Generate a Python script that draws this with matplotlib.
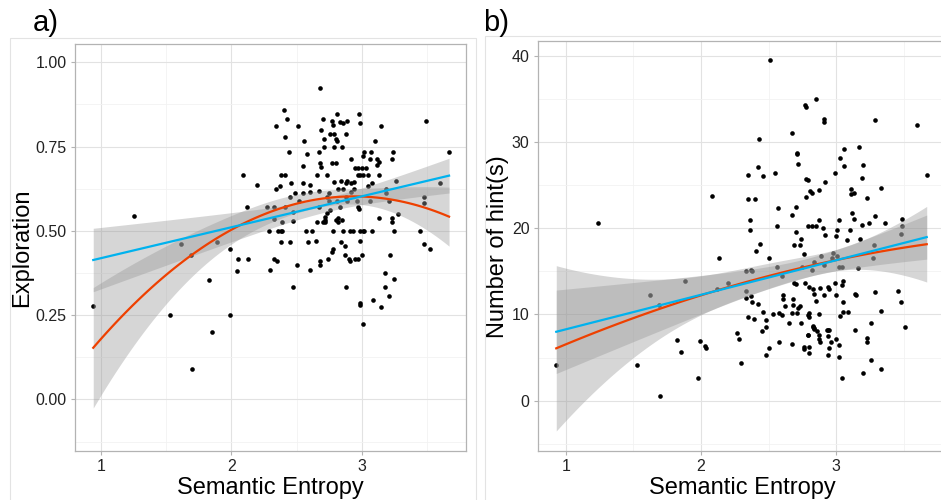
import numpy as np
import matplotlib
matplotlib.use("Agg")
import matplotlib.pyplot as plt
from matplotlib.patches import Rectangle

plt.rcParams['font.family'] = ['Liberation Sans', 'DejaVu Sans']

# panel a) semantic entropy vs exploration
xa = [0.94, 1.25, 1.53, 1.61, 1.69, 1.70, 1.83, 1.85, 1.89, 1.99, 1.99, 2.04, 2.05, 2.09, 2.12,
      2.13, 2.20, 2.27, 2.29, 2.30, 2.33, 2.33, 2.33, 2.34, 2.34, 2.35, 2.36, 2.37, 2.38, 2.38,
      2.38, 2.39, 2.39, 2.40, 2.41, 2.41, 2.41, 2.43, 2.44, 2.45, 2.46, 2.45, 2.47, 2.47, 2.47,
      2.49, 2.50, 2.51, 2.52, 2.55, 2.55, 2.55, 2.56, 2.57, 2.58, 2.59, 2.60, 2.60, 2.60, 2.62,
      2.65, 2.66, 2.66, 2.67, 2.67, 2.67, 2.68, 2.68, 2.68, 2.68, 2.69, 2.69, 2.70, 2.70, 2.71,
      2.71, 2.72, 2.72, 2.72, 2.73, 2.73, 2.73, 2.74, 2.75, 2.75, 2.76, 2.76, 2.77, 2.77, 2.77,
      2.78, 2.78, 2.78, 2.79, 2.79, 2.79, 2.80, 2.80, 2.80, 2.81, 2.81, 2.81, 2.82, 2.82, 2.82,
      2.83, 2.83, 2.84, 2.84, 2.85, 2.85, 2.86, 2.86, 2.86, 2.87, 2.87, 2.88, 2.88, 2.88, 2.88,
      2.89, 2.89, 2.89, 2.90, 2.91, 2.91, 2.92, 2.92, 2.92, 2.93, 2.94, 2.94, 2.95, 2.95, 2.96,
      2.97, 2.97, 2.97, 2.97, 2.98, 2.98, 2.99, 2.99, 2.99, 2.99, 2.99, 2.99, 3.00, 3.00, 3.01,
      3.01, 3.01, 3.01, 3.02, 3.02, 3.03, 3.05, 3.05, 3.06, 3.06, 3.07, 3.08, 3.08, 3.09, 3.10,
      3.12, 3.12, 3.13, 3.13, 3.13, 3.15, 3.15, 3.18, 3.18, 3.19, 3.19, 3.21, 3.21, 3.22, 3.23,
      3.23, 3.23, 3.24, 3.25, 3.25, 3.26, 3.28, 3.45, 3.48, 3.48, 3.48, 3.49, 3.52, 3.60, 3.67]
ya = [0.278, 0.545, 0.250, 0.462, 0.428, 0.091, 0.353, 0.200, 0.467, 0.445, 0.250, 0.382, 0.416, 0.666, 0.572,
      0.416, 0.637, 0.572, 0.500, 0.385, 0.416, 0.572, 0.534, 0.812, 0.625, 0.411, 0.500, 0.634, 0.666, 0.500,
      0.467, 0.526, 0.500, 0.857, 0.777, 0.666, 0.572, 0.833, 0.733, 0.467, 0.643, 0.601, 0.529, 0.556, 0.333,
      0.611, 0.400, 0.812, 0.588, 0.692, 0.643, 0.611, 0.765, 0.500, 0.728, 0.467, 0.615, 0.385, 0.636, 0.500,
      0.471, 0.526, 0.666, 0.733, 0.572, 0.618, 0.400, 0.923, 0.700, 0.411, 0.688, 0.800, 0.526, 0.833, 0.771,
      0.750, 0.532, 0.542, 0.526, 0.552, 0.666, 0.601, 0.416, 0.611, 0.588, 0.786, 0.562, 0.438, 0.825, 0.700,
      0.815, 0.445, 0.500, 0.645, 0.750, 0.786, 0.771, 0.532, 0.700, 0.847, 0.765, 0.588, 0.625, 0.526, 0.539,
      0.572, 0.824, 0.648, 0.467, 0.750, 0.532, 0.500, 0.819, 0.625, 0.427, 0.455, 0.643, 0.601, 0.786, 0.334,
      0.825, 0.588, 0.648, 0.415, 0.500, 0.411, 0.615, 0.643, 0.714, 0.500, 0.625, 0.646, 0.686, 0.417, 0.588,
      0.417, 0.686, 0.666, 0.572, 0.847, 0.566, 0.287, 0.666, 0.500, 0.279, 0.471, 0.819, 0.428, 0.686, 0.224,
      0.666, 0.500, 0.723, 0.733, 0.500, 0.686, 0.666, 0.634, 0.588, 0.714, 0.733, 0.643, 0.500, 0.295, 0.765,
      0.714, 0.694, 0.704, 0.538, 0.666, 0.812, 0.273, 0.376, 0.334, 0.623, 0.613, 0.588, 0.308, 0.427, 0.538,
      0.526, 0.714, 0.733, 0.500, 0.358, 0.648, 0.551, 0.500, 0.601, 0.462, 0.583, 0.825, 0.445, 0.643, 0.733]

# panel b) semantic entropy vs number of hints
xb = [0.93, 1.24, 1.53, 1.62, 1.69, 1.70, 1.82, 1.85, 1.88, 1.98, 1.99, 2.03, 2.04, 2.08, 2.12,
      2.13, 2.20, 2.27, 2.28, 2.30, 2.33, 2.33, 2.33, 2.35, 2.35, 2.35, 2.36, 2.36, 2.37, 2.37,
      2.38, 2.38, 2.39, 2.40, 2.41, 2.42, 2.42, 2.43, 2.44, 2.45, 2.46, 2.46, 2.48, 2.48, 2.48,
      2.50, 2.50, 2.51, 2.53, 2.55, 2.56, 2.56, 2.57, 2.58, 2.58, 2.60, 2.60, 2.61, 2.61, 2.62,
      2.65, 2.67, 2.67, 2.67, 2.67, 2.68, 2.68, 2.69, 2.69, 2.70, 2.70, 2.70, 2.71, 2.71, 2.71,
      2.72, 2.72, 2.73, 2.73, 2.74, 2.74, 2.75, 2.76, 2.76, 2.76, 2.77, 2.78, 2.77, 2.78, 2.79,
      2.78, 2.79, 2.79, 2.79, 2.79, 2.80, 2.80, 2.80, 2.80, 2.80, 2.81, 2.82, 2.82, 2.82, 2.83,
      2.83, 2.83, 2.84, 2.84, 2.84, 2.84, 2.85, 2.85, 2.85, 2.86, 2.87, 2.87, 2.87, 2.87, 2.87,
      2.88, 2.88, 2.89, 2.90, 2.91, 2.91, 2.91, 2.91, 2.92, 2.92, 2.93, 2.94, 2.94, 2.94, 2.94,
      2.95, 2.95, 2.95, 2.96, 2.97, 2.98, 2.99, 2.99, 3.00, 3.00, 3.00, 3.01, 3.01, 3.02, 3.02,
      3.02, 3.02, 3.03, 3.03, 3.04, 3.04, 3.04, 3.05, 3.05, 3.05, 3.06, 3.06, 3.08, 3.09, 3.10,
      3.11, 3.11, 3.12, 3.13, 3.13, 3.14, 3.14, 3.15, 3.16, 3.17, 3.18, 3.19, 3.19, 3.20, 3.20,
      3.23, 3.23, 3.23, 3.24, 3.26, 3.26, 3.27, 3.28, 3.29, 3.29, 3.29, 3.33, 3.33, 3.33, 3.36,
      3.46, 3.48, 3.48, 3.49, 3.49, 3.51, 3.60, 3.67]
yb = [4.1, 20.6, 4.1, 12.2, 11.05, 0.5, 7.0, 5.7, 13.9, 2.6, 6.9, 6.3, 6.1, 23.7, 13.0,
      16.5, 13.6, 7.8, 7.1, 4.4, 11.9, 12.7, 15.0, 26.2, 23.4, 9.7, 21.0, 19.8, 12.1, 15.2,
      15.0, 11.5, 9.5, 23.4, 17.3, 11.2, 27.1, 30.4, 18.2, 8.1, 26.0, 10.3, 9.3, 5.3, 8.5,
      6.1, 16.6, 39.5, 10.05, 26.4, 20.2, 15.5, 22.3, 6.8, 10.2, 14.5, 9.9, 12.3, 11.8, 11.0,
      9.0, 10.2, 31.0, 6.6, 21.5, 11.8, 11.1, 18.1, 13.7, 13.5, 19.6, 22.5, 28.6, 28.7, 10.2,
      27.5, 10.8, 18.0, 11.0, 18.7, 9.0, 15.5, 17.0, 6.2, 5.95, 34.3, 34.1, 13.6, 25.7, 25.6,
      23.6, 7.65, 9.9, 20.3, 7.65, 10.2, 6.2, 5.5, 13.2, 9.7, 24.3, 24.1, 15.2, 20.3, 8.5,
      8.65, 12.9, 12.4, 16.1, 8.4, 8.3, 11.6, 20.3, 35.0, 8.1, 24.4, 21.0, 7.6, 7.2, 10.0,
      13.1, 6.8, 16.8, 20.0, 32.7, 32.3, 15.7, 12.3, 19.2, 25.3, 8.2, 13.2, 5.3, 8.2, 7.5,
      8.2, 13.0, 6.1, 6.8, 16.5, 17.1, 13.6, 26.4, 19.1, 7.2, 12.3, 19.8, 16.8, 21.0, 6.45,
      15.5, 5.1, 28.1, 9.8, 15.5, 13.4, 2.6, 13.9, 11.4, 10.3, 27.2, 29.2, 18.6, 10.3, 19.8,
      24.6, 24.0, 21.8, 21.1, 24.1, 12.4, 8.2, 12.3, 15.4, 29.4, 18.7, 25.8, 20.4, 27.3, 3.2,
      6.8, 7.3, 23.5, 20.6, 9.0, 4.75, 16.5, 18.0, 32.5, 12.6, 21.4, 3.7, 10.4, 24.7, 20.6,
      12.7, 19.3, 11.5, 21.1, 20.2, 8.5, 32.0, 26.2]

RED = '#EE4000'
BLUE = '#00B2EE'


def smooth(ax, x, y, deg, color):
    # lm smooth with 95% confidence band, like geom_smooth
    x = np.asarray(x)
    y = np.asarray(y)
    X = np.vander(x, deg + 1)
    beta = np.linalg.lstsq(X, y, rcond=None)[0]
    res = y - X @ beta
    s2 = res @ res / (len(x) - deg - 1)
    cov = s2 * np.linalg.inv(X.T @ X)
    xs = np.linspace(x.min(), x.max(), 80)
    Xs = np.vander(xs, deg + 1)
    fit = Xs @ beta
    se = np.sqrt(np.einsum('ij,jk,ik->i', Xs, cov, Xs))
    ax.fill_between(xs, fit - 1.972 * se, fit + 1.972 * se, color='#999999', alpha=0.4, lw=0, zorder=3)
    ax.plot(xs, fit, color=color, lw=1.6, zorder=4)


def style(ax):
    for s in ax.spines.values():
        s.set_color('#b3b3b3')
        s.set_linewidth(0.9)
    ax.grid(True, which='major', color='#e2e2e2', lw=0.8, zorder=0)
    ax.grid(True, which='minor', color='#f2f2f2', lw=0.6, zorder=0)
    ax.set_axisbelow(True)
    ax.tick_params(which='major', length=3, color='#b3b3b3', labelsize=11.5,
                   labelcolor='#222222', pad=3)
    ax.tick_params(which='minor', length=0)


fig = plt.figure(figsize=(9.41, 5.0), dpi=100)
W, H = 941, 500

# outer panel frames
fig.patches.append(Rectangle((10 / W, -0.01), 466 / W, 1 - 38 / H + 0.01, transform=fig.transFigure,
                             fill=False, ec='#e3e3e3', lw=0.8))
fig.patches.append(Rectangle((485 / W, -0.01), 470 / W, 1 - 36 / H + 0.01, transform=fig.transFigure,
                             fill=False, ec='#e3e3e3', lw=0.8))

ax1 = fig.add_axes([75 / W, 1 - 451 / H, (466 - 75) / W, (451 - 44) / H])
ax1.scatter(xa, ya, s=11, color='black', lw=0, zorder=2)
smooth(ax1, xa, ya, 2, RED)
smooth(ax1, xa, ya, 1, BLUE)
ax1.set_xlim(0.80, 3.80)
ax1.set_ylim(-0.153, 1.054)
ax1.set_xticks([1, 2, 3])
ax1.set_xticks([1.5, 2.5, 3.5], minor=True)
ax1.set_yticks([0, 0.25, 0.5, 0.75, 1.0])
ax1.set_yticklabels(['0.00', '0.25', '0.50', '0.75', '1.00'])
ax1.set_yticks([-0.125, 0.125, 0.375, 0.625, 0.875], minor=True)
style(ax1)
ax1.set_xlabel('Semantic Entropy', fontsize=17, labelpad=2)
ax1.set_ylabel('Exploration', fontsize=17)
ax1.yaxis.set_label_coords((33 - 75) / 391, 0.5)

ax2 = fig.add_axes([538 / W, 1 - 451 / H, (947 - 538) / W, (451 - 41.3) / H])
ax2.scatter(xb, yb, s=11, color='black', lw=0, zorder=2)
smooth(ax2, xb, yb, 2, RED)
smooth(ax2, xb, yb, 1, BLUE)
ax2.set_xlim(0.795, 3.82)
ax2.set_ylim(-5.83, 41.67)
ax2.set_xticks([1, 2, 3])
ax2.set_xticks([1.5, 2.5, 3.5], minor=True)
ax2.set_yticks([0, 10, 20, 30, 40])
ax2.set_yticks([-5, 5, 15, 25, 35], minor=True)
style(ax2)
ax2.set_xlabel('Semantic Entropy', fontsize=17, labelpad=2)
ax2.set_ylabel('Number of hint(s)', fontsize=17)
ax2.yaxis.set_label_coords((509 - 538) / 409, 0.5)

fig.text(33 / W, 1 - 31 / H, 'a)', fontsize=21, color='black')
fig.text(483 / W, 1 - 31 / H, 'b)', fontsize=21, color='black')

fig.savefig('out.png', dpi=100)
